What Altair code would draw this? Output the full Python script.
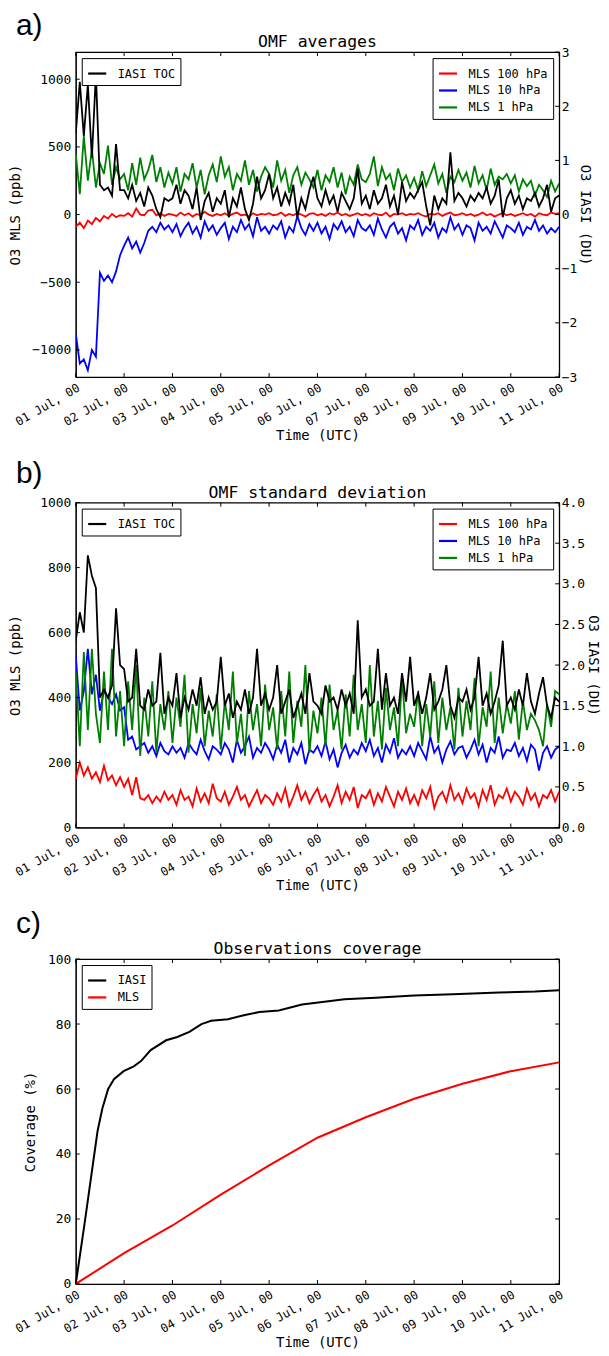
import altair as alt
import pandas as pd

# ---------------- data (2-hourly, 01 Jul 00 -> 11 Jul 00) ----------------
START = "2015-07-01"
N_STEPS = 121
STEP = "2h"

IASI_MEAN = [1.5, 2.45, 1.45, 2.4, 1.05, 2.6, 0.55, 0.45, 0.5, 0.35, 1.3, 0.45,
             0.45, 0.3, 0.55, 0.25, 0.4, 0.15, 0.5, 0.35, 0.1, -0.05, 0.3, 0.25,
             0.3, 0.55, 0.2, 0.45, 0.35, 0.1, 0.5, -0.1, 0.25, 0.4, 0.05, 0.3,
             0.2, 0.45, -0.05, 0.3, 0.15, 0.5, 0.1, -0.1, 0.2, 0.7, 0.3, 0.45,
             0.75, 0.3, 0.5, 0.15, 0.4, 0.2, 0.55, -0.05, 0.3, 0.1, 0.45, 0.7,
             0.3, 0.15, 0.45, 0.2, 0.35, 0.05, 0.4, 0.25, 0.1, 0.3, 0.85, 0.2,
             0.35, 0.1, 0.45, 0.2, 0.3, 0.55, 0.15, 0.35, 0.0, 0.6, 0.25, 0.4,
             0.3, 0.45, 0.6, 0.15, -0.2, 0.35, 0.1, 0.3, 0.2, 1.15, 0.25, 0.4,
             0.3, 0.15, 0.35, 0.25, 0.4, 0.3, 0.5, 0.2, 0.35, 0.65, -0.05, 0.3,
             0.45, 0.2, 0.35, 0.1, 0.3, 0.25, 0.4, 0.15, 0.3, 0.55, 0.05, 0.3,
             0.35]

MLS100_MEAN = [-90, -60, -100, -45, -70, -25, -50, -10, -30, 5, -20, -5,
               -10, 10, -15, 45, 0, -5, 30, 35, -5, 10, -10, 5,
               0, -10, 15, -5, 10, -15, 5, -5, 20, 0, -10, 5,
               -5, 10, -10, 5, 15, -5, 0, -15, 10, -5, 5, 0,
               10, -5, 0, 15, -10, 5, -5, 10, 0, -15, 5, 10,
               -5, 5, -10, 10, 0, 15, -5, 5, -10, 0, 10, -5,
               5, -10, 10, 0, -5, 15, -15, 5, 0, 10, -5, 5,
               0, 10, -5, -15, 5, 0, 10, -10, 5, 15, -5, 0,
               10, -5, 5, -10, 0, 15, -5, 5, -15, 0, 10, -5,
               5, -10, 0, 10, -5, 5, -15, 10, 0, -5, 15, 5,
               10]

MLS10_MEAN = [-880, -1100, -1070, -1150, -1000, -1050, -430, -490, -450, -500, -420, -300,
              -230, -170, -250, -200, -280, -210, -120, -90, -130, -60, -110, -80,
              -130, -70, -160, -100, -60, -140, -90, -170, -50, -120, -80, -150,
              -100, -60, -180, -90, -130, -40, -110, -70, -160, -20, -120, -90,
              -140, -80, -110, -50, -170, -90, -130, -10, -100, -150, -70, -120,
              -60, -140, -90, -180, -70, -110, -50, -130, -90, -160, -40, -100,
              -120, -80, -150, -30, -110, -170, -90, -60, -140, -100, -190, -80,
              -110, -40, -150, -90, -120, -60, -170, -100, -130, -20, -110, -70,
              -150, -80, -100, -190, -60, -120, -90, -140, -50, -110, -170, -80,
              -100, -130, -60, -150, -90, -110, -40, -120, -80, -140, -100, -130,
              -90]

MLS1_MEAN = [450, 150, 580, 250, 480, 200, 380, 300, 510, 220, 350, 260,
             300, 180, 380, 220, 420, 260, 330, 440, 240, 350, 200, 310,
             230, 350, 170, 300, 260, 380, 200, 330, 150, 290, 370, 240,
             430, 280, 350, 180, 300, 250, 400, 220, 330, 170, 280, 350,
             300, 200, 400, 250, 330, 160, 290, 350, 220, 310, 260, 200,
             330, 180, 290, 240, 350, 200, 310, 150, 280, 220, 370, 260,
             240, 300, 430, 210, 350, 260, 300, 180, 340, 240, 290, 200,
             270, 180, 320, 210, 290, 370, 230, 300, 160, 280, 240, 330,
             250, 310, 200, 360, 230, 290, 180, 340, 220, 280, 260, 300,
             230, 290, 170, 260, 210, 250, 140, 220, 180, 130, 250, 170,
             230]

IASI_STD = [2.3, 2.65, 2.4, 3.35, 3.1, 2.95, 1.6, 1.7, 1.6, 1.75, 2.7, 2.0,
            1.95, 1.55, 1.6, 2.2, 1.5, 1.45, 1.7, 1.5, 1.55, 2.15, 1.4, 1.6,
            1.5, 1.9, 1.35, 1.6, 1.45, 1.7, 1.5, 1.85, 1.4, 1.6, 1.45, 1.55,
            2.1, 1.5, 1.65, 1.35, 1.55, 1.45, 1.7, 1.4, 1.6, 2.2, 1.5, 1.65,
            1.45, 1.6, 2.0, 1.4, 1.55, 1.7, 1.35, 1.5, 1.65, 1.4, 1.9, 1.55,
            1.5, 1.4, 1.75, 1.55, 1.6, 1.45, 1.7, 1.5, 1.65, 1.4, 2.55, 1.6,
            1.7, 1.5, 1.55, 2.2, 1.45, 1.9, 1.5, 1.6, 1.4, 1.9, 1.55, 2.1,
            1.5, 1.65, 1.4, 1.6, 1.9, 1.45, 1.55, 1.7, 2.0, 1.5, 1.35, 1.6,
            1.55, 1.7, 1.45, 1.6, 2.1, 1.5, 1.65, 1.4, 1.55, 1.75, 2.3, 1.5,
            1.6, 1.45, 1.7, 1.5, 1.9, 1.55, 1.4, 1.65, 1.85, 1.5, 1.35, 1.6,
            1.55]

MLS100_STD = [150, 200, 160, 185, 150, 170, 140, 190, 145, 160, 130, 155,
              125, 150, 100, 155, 90, 85, 100, 75, 95, 80, 110, 85,
              100, 70, 115, 85, 95, 65, 120, 80, 105, 75, 135, 90,
              80, 110, 70, 95, 125, 85, 100, 65, 90, 115, 75, 100,
              90, 70, 105, 80, 120, 65, 95, 130, 85, 110, 75, 100,
              120, 80, 100, 65, 95, 130, 75, 110, 85, 125, 60, 100,
              90, 115, 70, 105, 80, 125, 95, 65, 110, 85, 120, 75,
              100, 70, 115, 90, 125, 60, 95, 110, 80, 130, 85, 105,
              75, 120, 90, 105, 65, 115, 85, 130, 70, 100, 90, 120,
              80, 110, 95, 70, 120, 85, 105, 65, 100, 90, 115, 80,
              110]

MLS10_STD = [530, 360, 420, 550, 410, 470, 360, 420, 400, 380, 410, 360,
             370, 270, 280, 240, 250, 260, 230, 250, 220, 260, 235, 225,
             250, 230, 245, 215, 260, 240, 225, 270, 235, 210, 250, 240,
             225, 260, 240, 200, 270, 230, 250, 280, 215, 245, 230, 260,
             240, 210, 255, 230, 270, 200, 245, 225, 260, 195, 240, 230,
             250, 220, 265, 210, 240, 185, 230, 255, 215, 240, 225, 260,
             235, 270, 220, 245, 200, 255, 230, 275, 215, 240, 225, 250,
             220, 260, 235, 210, 280, 230, 250, 200, 240, 265, 225, 245,
             250, 215, 240, 270, 225, 255, 200, 245, 230, 280, 215, 240,
             235, 260, 220, 245, 205, 255, 240, 175, 230, 250, 215, 240,
             250]

MLS1_STD = [480, 250, 540, 300, 550, 350, 260, 480, 300, 550, 280, 420,
            250, 450, 300, 500, 220, 400, 280, 450, 230, 380, 300, 420,
            260, 400, 310, 470, 230, 380, 290, 430, 250, 360, 280, 410,
            240, 390, 300, 480, 260, 350, 220, 420, 300, 380, 250, 440,
            300, 370, 240, 420, 280, 480, 260, 390, 310, 500, 230, 360,
            290, 400, 250, 440, 300, 360, 240, 410, 280, 470, 300, 380,
            260, 500, 280, 390, 240, 430, 300, 370, 250, 460, 290, 350,
            310, 420, 250, 380, 280, 450, 260, 400, 300, 370, 240, 430,
            280, 390, 300, 460, 250, 370, 310, 480, 260, 400, 290, 380,
            320, 420, 270, 390, 300, 350, 330, 300, 250, 380, 310, 420,
            410]

# coverage (%), times in days since 01 Jul 00
COV_IASI_DAYS = [0, 0.19, 0.45, 0.55, 0.67, 0.79, 0.99, 1.2, 1.35, 1.55, 1.87, 2.1,
                 2.35, 2.6, 2.8, 3.15, 3.5, 3.8, 4.2, 4.68, 5.1, 5.56, 6.2, 7.0,
                 7.8, 8.76, 9.5, 10]
COV_IASI = [0, 19.4, 47, 54, 60, 63, 65.5, 67, 68.6, 72, 75, 76,
            77.6, 80, 81, 81.5, 82.8, 83.7, 84.2, 86, 86.8, 87.6, 88.1, 88.8,
            89.2, 89.7, 90.0, 90.4]
COV_MLS_DAYS = [0, 1, 2, 3, 4, 5, 6, 7, 8, 9, 10]
COV_MLS = [0, 9.5, 18, 27.5, 36.5, 45, 51.3, 57, 61.6, 65.5, 68.2]

MLS_NAMES = ["MLS 100 hPa", "MLS 10 hPa", "MLS 1 hPa"]
MLS_COLORS = ["#ff0000", "#0000ff", "#008000"]
DAY_TICKS = list(range(1, 12))
TITLES = ["OMF averages", "OMF standard deviation", "Observations coverage"]
PANEL_LABELS = ["a)", "b)", "c)"]
A_LEFT_TICKS = [-1000, -500, 0, 500, 1000]
A_RIGHT_TICKS = [-3, -2, -1, 0, 1, 2, 3]
B_LEFT_TICKS = [0, 200, 400, 600, 800, 1000]
B_RIGHT_TICKS = [0, 0.5, 1, 1.5, 2, 2.5, 3, 3.5, 4]
C_TICKS = [0, 20, 40, 60, 80, 100]

# ---------------- helpers ----------------
FONT = "DejaVu Sans Mono"
W, H = 485, 326
TICK = 4
times = pd.date_range(START, periods=N_STEPS, freq=STEP)
iso = [t.strftime("%Y-%m-%dT%H:%M:%S") for t in times]
day_iso = [pd.Timestamp(2015, 7, d).strftime("%Y-%m-%dT%H:%M:%S") for d in DAY_TICKS]


def frame(series):
    rows = []
    for name, vals in series:
        for t, v in zip(iso, vals):
            rows.append({"time": t, "value": v, "series": name})
    return pd.DataFrame(rows)


x_enc = alt.X(
    "time:T",
    title="Time (UTC)",
    scale=alt.Scale(domain=[alt.DateTime(year=2015, month=7, date=1),
                            alt.DateTime(year=2015, month=7, date=11)]),
    axis=alt.Axis(values=[alt.DateTime(year=2015, month=7, date=d) for d in DAY_TICKS],
                  format="%d %b, %H", labelAngle=330, labelAlign="right",
                  labelBaseline="top", labelOverlap=False, labelFlush=False,
                  labelFontSize=12, titlePadding=1),
)


def x_tick_layers():
    df = pd.DataFrame({"time": day_iso})
    base = alt.Chart(df).mark_rule(color="black", strokeWidth=1)
    bottom = base.encode(x=x_enc, y=alt.value(H - TICK), y2=alt.value(H))
    top = base.encode(x=x_enc, y=alt.value(0), y2=alt.value(TICK))
    return [bottom, top]


def y_tick_layer(values, domain, side, yaxis=None):
    df = pd.DataFrame({"value": values})
    if yaxis is None:
        y = alt.Y("value:Q", scale=alt.Scale(domain=domain, nice=False, zero=False), axis=None)
    else:
        y = yaxis
    if side == "left":
        xs = dict(x=alt.value(0), x2=alt.value(TICK))
    else:
        xs = dict(x=alt.value(W - TICK), x2=alt.value(W))
    return alt.Chart(df).mark_rule(color="black", strokeWidth=1).encode(y=y, **xs)


def legend(orient):
    return alt.Legend(orient=orient, offset=6, strokeColor="black", fillColor="white",
                      padding=5, labelFont=FONT, labelFontSize=12, labelColor="black",
                      symbolType="stroke", symbolStrokeWidth=2.2, symbolSize=330,
                      rowPadding=0, labelOffset=10, cornerRadius=0)


def decorations(lab, title, lab_y):
    lab_layer = alt.Chart(pd.DataFrame({"t": [lab]})).mark_text(
        font="Liberation Sans", fontSize=30, align="left", baseline="top", color="black"
    ).encode(text="t:N", x=alt.value(-60), y=alt.value(lab_y))
    title_layer = alt.Chart(pd.DataFrame({"t": [title]})).mark_text(
        font=FONT, fontSize=16.5, align="center", baseline="alphabetic", color="black"
    ).encode(text="t:N", x=alt.value(W / 2), y=alt.value(-5))
    return [lab_layer, title_layer]


def dual_panel(idx, mls_vals, iasi_vals, ldom, lticks, rdom, rticks, rfmt, ltp, lab_y):
    mls = frame(list(zip(MLS_NAMES, mls_vals)))
    iasi = frame([("IASI TOC", iasi_vals)])
    left = alt.Chart(mls).mark_line(strokeWidth=1.8, clip=True).encode(
        x=x_enc,
        y=alt.Y("value:Q", title="O3 MLS (ppb)",
                scale=alt.Scale(domain=ldom, nice=False, zero=False),
                axis=alt.Axis(orient="left", values=lticks, format="d", titlePadding=ltp)),
        color=alt.Color("series:N", title=None,
                        scale=alt.Scale(domain=MLS_NAMES, range=MLS_COLORS),
                        legend=legend("top-right")),
    )
    right = alt.Chart(iasi).mark_line(strokeWidth=1.8, clip=True).encode(
        x=x_enc,
        y=alt.Y("value:Q", title="O3 IASI (DU)",
                scale=alt.Scale(domain=rdom, nice=False, zero=False),
                axis=alt.Axis(orient="right", values=rticks, format=rfmt,
                              labelPadding=2, titlePadding=1)),
        color=alt.Color("series:N", title=None,
                        scale=alt.Scale(domain=["IASI TOC"], range=["black"]),
                        legend=legend("top-left")),
    )
    layers = [left, right,
              y_tick_layer(lticks, ldom, "left"),
              y_tick_layer(rticks, rdom, "right"),
              *x_tick_layers(),
              *decorations(PANEL_LABELS[idx], TITLES[idx], lab_y)]
    return alt.layer(*layers).resolve_scale(
        y="independent", color="independent"
    ).properties(width=W, height=H)


panel_a = dual_panel(0, [MLS100_MEAN, MLS10_MEAN, MLS1_MEAN], IASI_MEAN,
                     [-1200, 1200], A_LEFT_TICKS, [-3, 3], A_RIGHT_TICKS, "d", 9, -41)
panel_b = dual_panel(1, [MLS100_STD, MLS10_STD, MLS1_STD], IASI_STD,
                     [0, 1000], B_LEFT_TICKS, [0, 4], B_RIGHT_TICKS, ".1f", 17, -44)

start_ts = pd.Timestamp(START)
cov_rows = []
for d, v in zip(COV_IASI_DAYS, COV_IASI):
    cov_rows.append({"time": (start_ts + pd.Timedelta(days=d)).strftime("%Y-%m-%dT%H:%M:%S"),
                     "value": v, "series": "IASI"})
for d, v in zip(COV_MLS_DAYS, COV_MLS):
    cov_rows.append({"time": (start_ts + pd.Timedelta(days=d)).strftime("%Y-%m-%dT%H:%M:%S"),
                     "value": v, "series": "MLS"})
cov = pd.DataFrame(cov_rows)

c_y = alt.Y("value:Q", title="Coverage (%)",
            scale=alt.Scale(domain=[0, 100], nice=False),
            axis=alt.Axis(values=C_TICKS, titlePadding=10))
cov_lines = alt.Chart(cov).mark_line(strokeWidth=2).encode(
    x=x_enc,
    y=c_y,
    color=alt.Color("series:N", title=None,
                    scale=alt.Scale(domain=["IASI", "MLS"], range=["black", "#ff0000"]),
                    legend=legend("top-left")),
)
panel_c = alt.layer(
    cov_lines,
    y_tick_layer(C_TICKS, [0, 100], "left", c_y),
    y_tick_layer(C_TICKS, [0, 100], "right", c_y),
    *x_tick_layers(),
    *decorations(PANEL_LABELS[2], TITLES[2], -50),
).properties(width=W, height=H)

chart = alt.vconcat(panel_a, panel_b, panel_c, spacing=14).resolve_scale(
    color="independent"
).properties(
    padding={"left": 0, "top": 0, "right": 0, "bottom": 0}
).configure(
    font=FONT
).configure_axis(
    labelFont=FONT, labelFontSize=13, labelColor="black",
    titleFont=FONT, titleFontSize=14, titleFontWeight="normal", titleColor="black",
    domainColor="black", ticks=False, grid=False, labelPadding=5,
).configure_view(
    stroke="black", strokeWidth=1.2
)

chart.save("out.html", embed_options={"renderer": "svg", "actions": False})
